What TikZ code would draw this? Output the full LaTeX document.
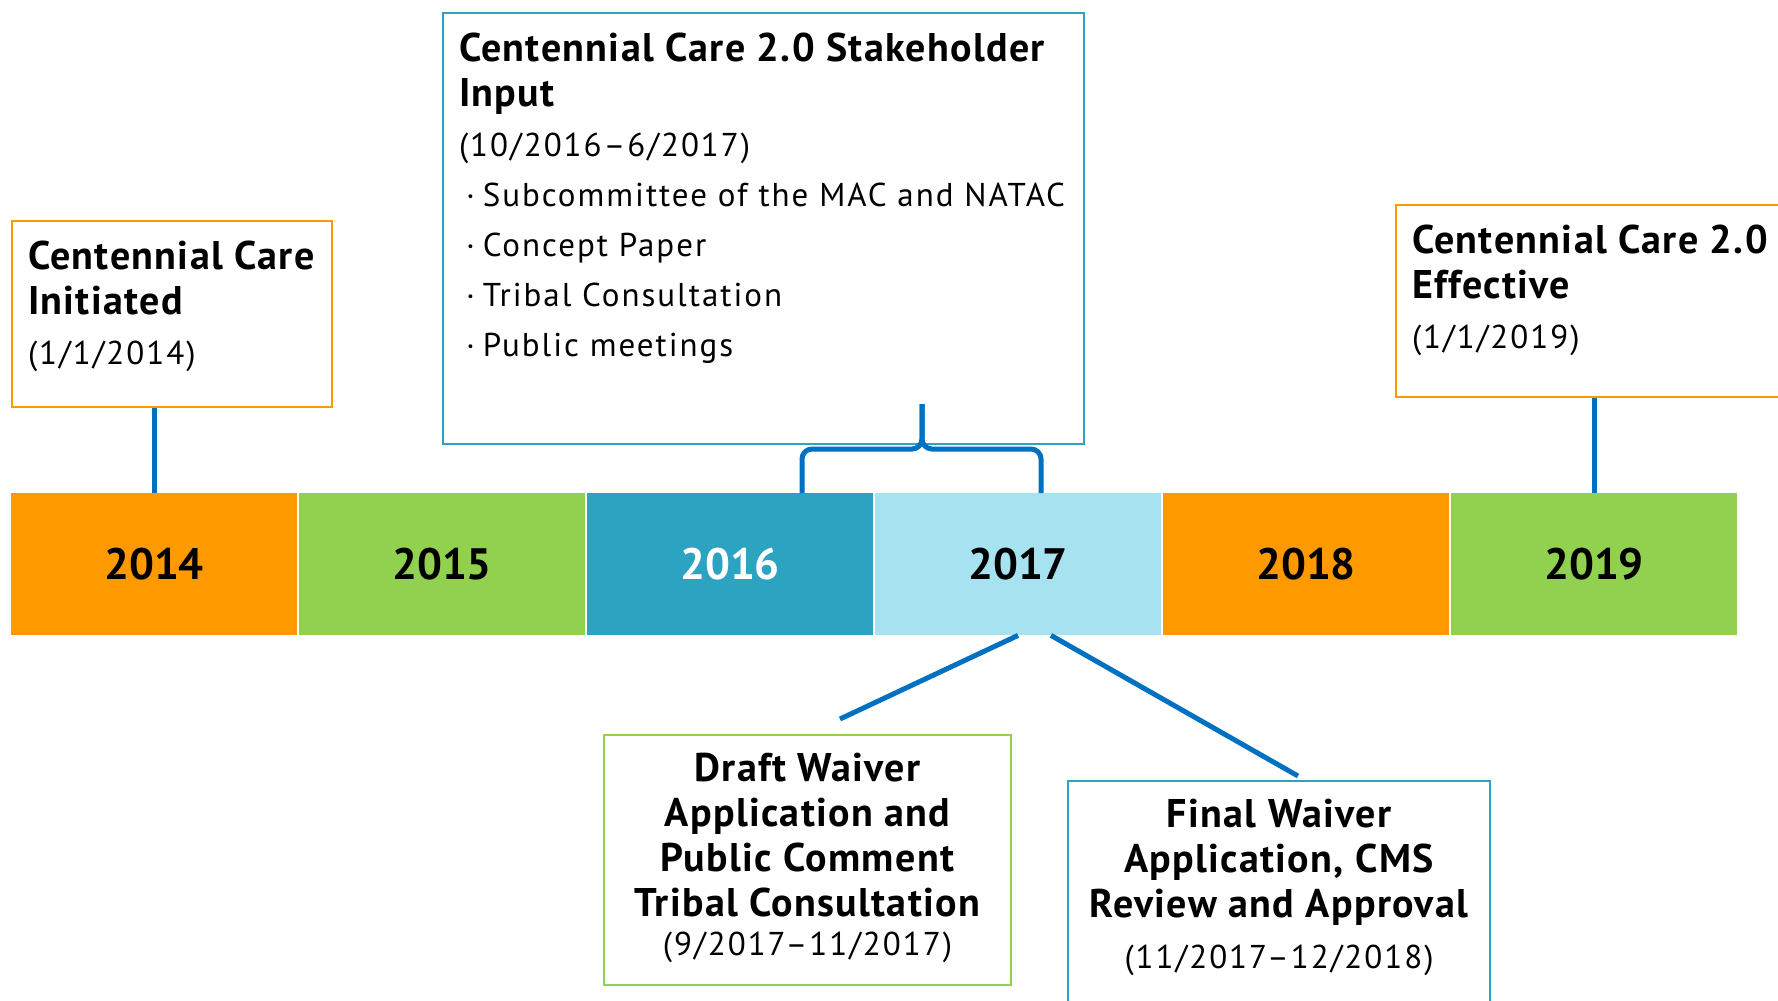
\documentclass[tikz,border=0pt]{standalone}
\usepackage{fontspec}
\setmainfont{PT Sans}
\newfontfamily\headfont[LetterSpace=3.3]{PT Sans}
\newfontfamily\bodyfont[LetterSpace=6]{PT Sans}
\usetikzlibrary{positioning}

\definecolor{tlorange}{HTML}{FF9900}
\definecolor{tlgreen}{HTML}{92D050}
\definecolor{tlteal}{HTML}{2CA3C0}
\definecolor{tlsky}{HTML}{A7E2F0}
\definecolor{connblue}{HTML}{0070C0}

\newcommand{\headtxt}{\headfont\fontsize{20}{22.5}\selectfont\bfseries}
\newcommand{\datetxt}[1]{\bodyfont\fontsize{16.5}{#1}\selectfont\mdseries}
\newcommand{\stakeitem}[1]{\par\hspace*{3.5pt}\textperiodcentered\hspace{4pt}#1}

\begin{document}
\begin{tikzpicture}[x=0.5pt, y=-0.5pt,
    year/.style={minimum width=143pt, minimum height=71pt, inner sep=0pt,
      font=\fontsize{22}{26}\selectfont\bfseries},
    callout/.style={draw, line width=1pt, fill=white, inner xsep=8pt, inner ysep=10pt, anchor=north west},
    conn/.style={draw=connblue, line width=2.5pt}]

    \useasboundingbox (0,0) rectangle (1778,1001);

    % Year bar
    \foreach \yr/\col/\txt [count=\i from 0] in {2014/tlorange/black, 2015/tlgreen/black,
        2016/tlteal/white, 2017/tlsky/black, 2018/tlorange/black, 2019/tlgreen/black}
        \node[year, fill=\col, text=\txt] (y\yr) at ({154+288*\i}, 564) {\yr};

    % Milestones above the bar
    \node[callout, draw=tlorange] (init) at (11,220)
        {\parbox[t][73pt][t]{144pt}{\raggedright\headtxt \mbox{Centennial Care}\\Initiated\par
         \datetxt{25pt}(1/1/2014)}};
    \node[callout, draw=tlteal] (input) at (442,12)
        {\parbox[t][195.5pt][t]{304.5pt}{\raggedright\headtxt \mbox{Centennial Care 2.0 Stakeholder}\\Input\par
         \datetxt{25pt}(10/2016–6/2017)
         \stakeitem{Subcommittee of the MAC and NATAC}
         \stakeitem{Concept Paper}
         \stakeitem{Tribal Consultation}
         \stakeitem{Public meetings}}};
    \node[callout, draw=tlorange] (effect) at (1395,204)
        {\parbox[t][76pt][t]{184pt}{\raggedright\headtxt Centennial Care 2.0\\Effective\par
         \datetxt{25pt}(1/1/2019)}};

    % Milestones below the bar
    \node[callout, draw=tlgreen, inner ysep=9pt] (draft) at (603,734)
        {\parbox[t][107pt][t]{187.5pt}{\centering\headtxt Draft Waiver\\Application and\\Public Comment\\Tribal Consultation\par
         \datetxt{19.5pt}(9/2017–11/2017)}};
    \node[callout, draw=tlteal, inner ysep=9pt] (final) at (1067,780)
        {\parbox[t][102pt][t]{195pt}{\centering\headtxt Final Waiver\\Application, CMS\\Review and Approval\par
         \datetxt{25.5pt}(11/2017–12/2018)}};

    % Connectors
    \draw[conn] (y2014.north) -- (y2014.north |- init.south);
    \draw[conn] (y2019.north) -- (y2019.north |- effect.south);

    \coordinate (braceL) at (802,493);
    \coordinate (braceR) at (1041,493);
    \coordinate (braceTip) at (922,404);
    \draw[conn, rounded corners=5pt] (braceL) -- (802,449) -- (922,449) -- (braceTip);
    \draw[conn, rounded corners=5pt] (braceR) -- (1041,449) -- (922,449) -- (braceTip);

    \coordinate (draftTip) at (840,719);
    \coordinate (finalTip) at (1298,776);
    \draw[conn] (y2017.south) -- (draftTip);
    \draw[conn] ([xshift=16.5pt]y2017.south) -- (finalTip);
\end{tikzpicture}
\end{document}
